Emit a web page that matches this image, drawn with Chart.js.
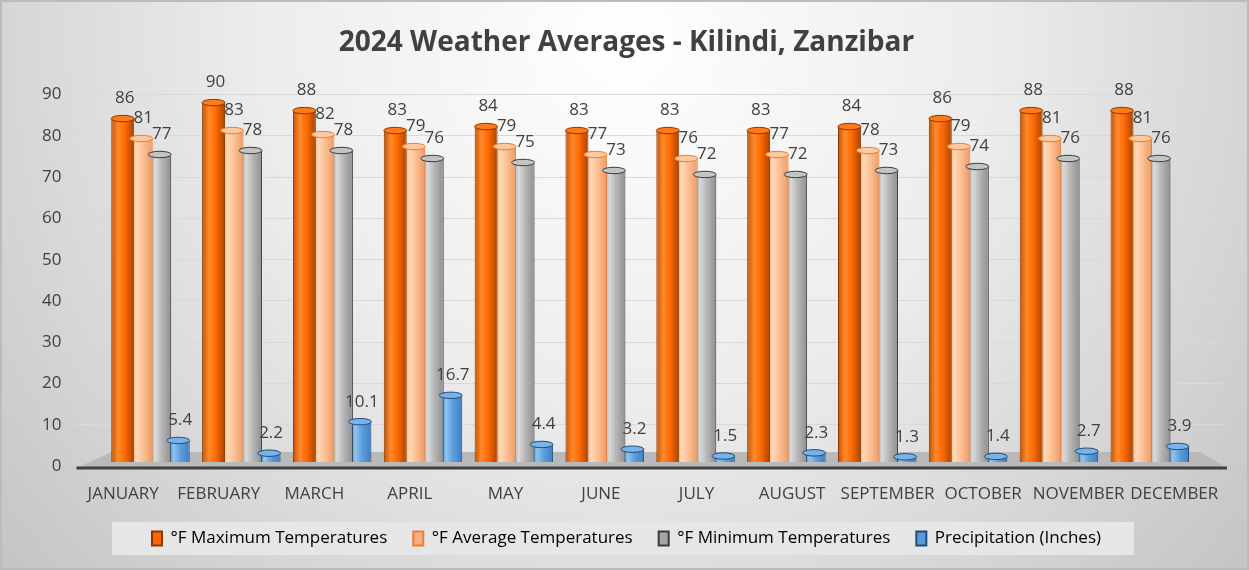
<!DOCTYPE html>
<html>
<head>
<meta charset="utf-8">
<script src="https://cdn.jsdelivr.net/npm/chart.js@4.4.1/dist/chart.umd.min.js"></script>
<style>
html, body { margin: 0; padding: 0; background: #fff; }
#wrap { width: 1249px; height: 570px; }
</style>
</head>
<body>
<div id="wrap"><canvas id="myChart" width="1249" height="570"></canvas></div>
<script>
'use strict'
let chartTitle = '2024 Weather Averages - Kilindi, Zanzibar';
let months = ['JANUARY', 'FEBRUARY', 'MARCH', 'APRIL', 'MAY', 'JUNE', 'JULY', 'AUGUST', 'SEPTEMBER', 'OCTOBER', 'NOVEMBER', 'DECEMBER'];
let seriesNames = ['°F Maximum Temperatures', '°F Average Temperatures', '°F Minimum Temperatures', 'Precipitation (Inches)'];
let maxTemps = [86, 90, 88, 83, 84, 83, 83, 83, 84, 86, 88, 88];
let avgTemps = [81, 83, 82, 79, 79, 77, 76, 77, 78, 79, 81, 81];
let minTemps = [77, 78, 78, 76, 75, 73, 72, 72, 73, 74, 76, 76];
let rainInches = [5.4, 2.2, 10.1, 16.7, 4.4, 3.2, 1.5, 2.3, 1.3, 1.4, 2.7, 3.9];
let yTicks = [0, 10, 20, 30, 40, 50, 60, 70, 80, 90];

// colours for each cylinder: left edge, highlight, body, right edge, outline, cap
let palette = [
    { edge: '#c45200', hi: '#ff8a2e', body: '#ff6a00', dark: '#a84300', line: '#8a3800', cap: '#ff7a1a', box: '#ff6600' },
    { edge: '#f19a5e', hi: '#ffd9b8', body: '#fbbf92', dark: '#ec9a64', line: '#ed7d31', cap: '#ffc9a0', box: '#f4b183' },
    { edge: '#8a8a8a', hi: '#dadada', body: '#b5b5b5', dark: '#8f8f8f', line: '#3a3a3a', cap: '#c4c4c4', box: '#a5a5a5' },
    { edge: '#3676bd', hi: '#8fc4f3', body: '#5c9ddb', dark: '#3d7fc6', line: '#1f4e79', cap: '#7ab3ea', box: '#5b9bd5' }
];

let catPct = 0.815;
let barPct = 1.24;

// the 3D view in the original squeezes the bars a little compared to the labels,
// so the bars sit on their own hidden scales (xb, yb)
function barBox(chart, dsIndex, index){
    let xScale = chart.scales.xb;
    let catW = xScale.getPixelForValue(1) - xScale.getPixelForValue(0);
    let group = catW * catPct;
    let slot = group / seriesNames.length;
    let w = slot * barPct;
    let center = xScale.getPixelForValue(index) - group / 2 + slot * (dsIndex + 0.5);
    return { left: center - w / 2, right: center + w / 2 };
}

function cylinderFill(dsIndex){
    return function(context){
        let c = palette[dsIndex];
        let chart = context.chart;
        if (!chart.chartArea || context.type !== 'data' || !chart.scales.xb) return c.body;
        let b = barBox(chart, dsIndex, context.dataIndex);
        let g = chart.ctx.createLinearGradient(b.left, 0, b.right, 0);
        g.addColorStop(0, c.edge);
        g.addColorStop(0.3, c.hi);
        g.addColorStop(0.6, c.body);
        g.addColorStop(1, c.dark);
        return g;
    };
}

let seriesData = [maxTemps, avgTemps, minTemps, rainInches];
let datasets = [];
for (let i = 0; i < seriesData.length; i++){
    datasets.push({
        label: seriesNames[i],
        data: seriesData[i].map(function(v, k){ return { x: k, y: v }; }),
        xAxisID: 'xb',
        yAxisID: 'yb',
        backgroundColor: cylinderFill(i),
        borderColor: palette[i].line,
        borderWidth: { left: 1, right: 1, top: 0, bottom: 0 },
        categoryPercentage: catPct,
        barPercentage: barPct
    });
}

// background, floor, caps, value labels and legend panel
let decorPlugin = {
    id: 'decor',
    beforeDraw(chart){
        let ctx = chart.ctx;
        let W = chart.width, H = chart.height;
        ctx.save();
        let g = ctx.createRadialGradient(W / 2, 40, 0, W / 2, 40, 820);
        g.addColorStop(0, '#ffffff');
        g.addColorStop(0.45, '#ececec');
        g.addColorStop(1, '#c4c4c4');
        ctx.fillStyle = g;
        ctx.fillRect(0, 0, W, H);
        ctx.strokeStyle = '#bcbcbc';
        ctx.lineWidth = 2;
        ctx.strokeRect(1, 1, W - 2, H - 2);

        let boxes = chart.legend.legendHitBoxes;
        if (boxes && boxes.length){
            let l = boxes[0].left - 40;
            let last = boxes[boxes.length - 1];
            let r = last.left + last.width + 33;
            let t = boxes[0].top - 8;
            ctx.fillStyle = '#e6e6e6';
            ctx.fillRect(l, t, r - l, boxes[0].height + 16);
        }
        ctx.restore();
    },
    beforeDatasetsDraw(chart){
        let ctx = chart.ctx;
        let a = chart.chartArea;
        let y0 = chart.scales.y.getPixelForValue(0);
        ctx.save();
        ctx.fillStyle = '#b9b9b9';
        ctx.beginPath();
        ctx.moveTo(a.left + 1, y0 + 2);
        ctx.lineTo(a.right + 5, y0 + 2);
        ctx.lineTo(a.right - 22, y0 - 14);
        ctx.lineTo(a.left + 36, y0 - 14);
        ctx.closePath();
        ctx.fill();
        ctx.strokeStyle = '#404040';
        ctx.lineWidth = 3;
        ctx.beginPath();
        ctx.moveTo(a.left + 1, y0 + 2);
        ctx.lineTo(a.right + 5, y0 + 2);
        ctx.stroke();
        ctx.restore();
    },
    afterDatasetsDraw(chart){
        let ctx = chart.ctx;
        ctx.save();
        for (let d = chart.data.datasets.length - 1; d >= 0; d--){
            let meta = chart.getDatasetMeta(d);
            let c = palette[d];
            meta.data.forEach(function(bar){
                let rx = bar.width / 2;
                let ry = Math.max(2.5, bar.width * 0.14);
                ctx.fillStyle = c.cap;
                ctx.strokeStyle = c.line;
                ctx.lineWidth = 1;
                ctx.beginPath();
                ctx.ellipse(bar.x, bar.y, rx, ry, 0, 0, Math.PI * 2);
                ctx.fill();
                ctx.stroke();
            });
        }
        ctx.fillStyle = '#404040';
        ctx.font = '17px "Open Sans"';
        ctx.textAlign = 'center';
        ctx.textBaseline = 'middle';
        for (let d = 0; d < chart.data.datasets.length; d++){
            let meta = chart.getDatasetMeta(d);
            meta.data.forEach(function(bar, i){
                ctx.fillText(String(chart.data.datasets[d].data[i].y), bar.x + 2, bar.y - 20);
            });
        }
        ctx.restore();
    }
};

let ctx = document.getElementById('myChart').getContext('2d');
let chart = new Chart(ctx, {
    type: 'bar',
    data: {
        labels: months,
        datasets: datasets
    },
    options: {
        responsive: false,
        animation: false,
        devicePixelRatio: 1,
        layout: { padding: { left: 28, right: 24, top: 0, bottom: 13 } },
        plugins: {
            title: {
                display: true,
                text: chartTitle,
                color: '#404040',
                font: { family: 'Open Sans', size: 28, weight: 'bold' },
                padding: { top: 26, bottom: 35 }
            },
            legend: {
                position: 'bottom',
                labels: {
                    boxWidth: 10,
                    boxHeight: 14,
                    padding: 26,
                    color: '#404040',
                    font: { family: 'Open Sans', size: 17 },
                    generateLabels: function(chart){
                        return seriesNames.map(function(name, i){
                            return {
                                text: name,
                                fillStyle: palette[i].box,
                                strokeStyle: palette[i].line,
                                lineWidth: 2,
                                datasetIndex: i
                            };
                        });
                    }
                }
            },
            tooltip: { enabled: false }
        },
        scales: {
            x: {
                type: 'category',
                offset: true,
                grid: { display: false },
                border: { display: false },
                afterFit: function(axis){ axis.height = 38; },
                ticks: {
                    color: '#404040',
                    font: { family: 'Open Sans', size: 17 },
                    padding: 10,
                    maxRotation: 0,
                    autoSkip: false
                }
            },
            xb: {
                type: 'linear',
                display: false,
                offset: false,
                min: -0.826,
                max: 11.795,
                afterBuildTicks: function(axis){
                    axis.ticks = months.map(function(m, i){ return { value: i }; });
                }
            },
            y: {
                min: yTicks[0],
                max: yTicks[yTicks.length - 1],
                afterBuildTicks: function(axis){
                    axis.ticks = yTicks.map(function(v){ return { value: v }; });
                },
                grid: {
                    color: function(c){ return c.tick && c.tick.value === 0 ? 'rgba(0,0,0,0)' : '#d9d9d9'; },
                    drawTicks: false
                },
                border: { display: false },
                ticks: {
                    color: '#404040',
                    font: { family: 'Open Sans', size: 17 },
                    padding: 14
                }
            },
            yb: {
                type: 'linear',
                display: false,
                min: -1,
                max: 92
            },
            ySpace: {
                type: 'linear',
                position: 'right',
                display: true,
                grid: { display: false },
                border: { display: false },
                ticks: { display: false },
                afterFit: function(axis){ axis.width = 3; }
            }
        }
    },
    plugins: [decorPlugin]
});
</script>
</body>
</html>
